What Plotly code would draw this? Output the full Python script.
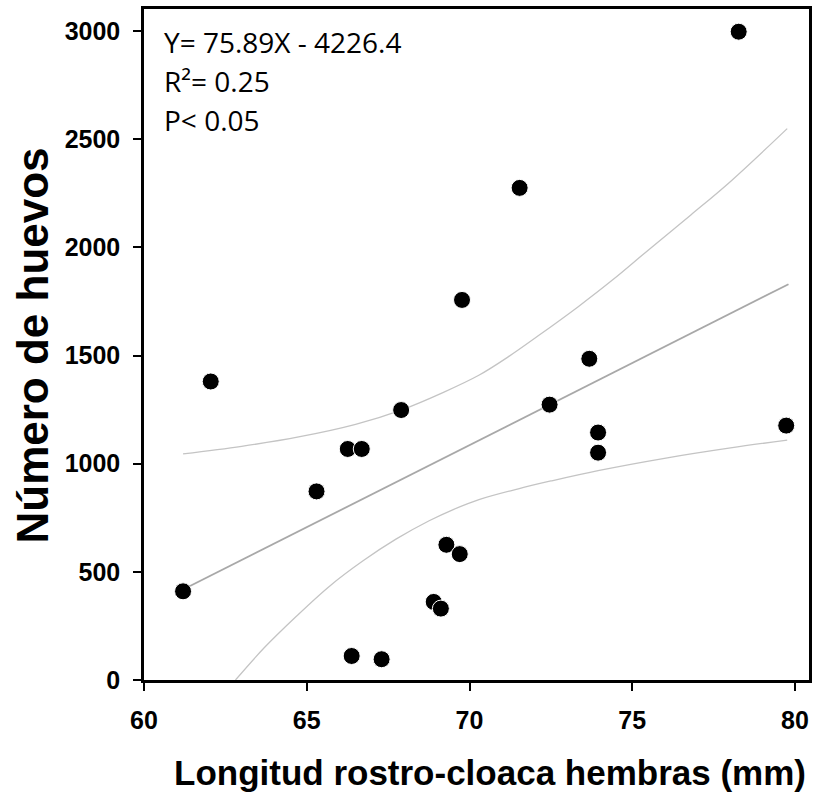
import plotly.graph_objects as go

# Data
lrc = [61.2, 62.05, 65.3, 66.26, 66.69, 66.38, 67.3, 67.9, 68.9, 69.12, 69.29, 69.7,
       69.77, 71.54, 72.46, 73.68, 73.95, 73.95, 78.27, 79.73]
huevos = [410, 1380, 872, 1068, 1068, 111, 96, 1248, 361, 330, 625, 582,
          1757, 2275, 1273, 1485, 1144, 1051, 2997, 1176]

# Regression line endpoints (Y = 75.89X - 4226.4)
reg_x = [61.2, 79.8]
reg_y = [418.1, 1829.6]

# Confidence band curves
upper_x = [61.2, 63.0, 64.79, 66.5, 67.9, 69.2, 70.3, 71.2, 72.1, 73.34, 74.4, 75.48, 76.8, 78.02, 79.76]
upper_y = [1045, 1080, 1125, 1182, 1248, 1330, 1410, 1495, 1590, 1726, 1850, 1986, 2150, 2305, 2549]
lower_x = [62.81, 63.7, 64.69, 65.71, 66.73, 67.74, 68.76, 69.5, 70.29, 71.5, 72.5, 73.95, 75.99, 78.02, 79.76]
lower_y = [0, 150, 296, 435, 551, 651, 736, 788, 834, 884, 920, 968, 1025, 1073, 1109]

x_ticks = [60, 65, 70, 75, 80]
y_ticks = [0, 500, 1000, 1500, 2000, 2500, 3000]

stats_lines = ["Y= 75.89X - 4226.4", "R²= 0.25", "P< 0.05"]

fig = go.Figure()
fig.add_trace(go.Scatter(x=upper_x, y=upper_y, mode="lines", line=dict(color="#c4c4c4", width=1.3, shape="spline"),
                         hoverinfo="skip", showlegend=False))
fig.add_trace(go.Scatter(x=lower_x, y=lower_y, mode="lines", line=dict(color="#c4c4c4", width=1.3, shape="spline"),
                         hoverinfo="skip", showlegend=False))
fig.add_trace(go.Scatter(x=reg_x, y=reg_y, mode="lines", line=dict(color="#a8a8a8", width=1.8),
                         hoverinfo="skip", showlegend=False))
fig.add_trace(go.Scatter(x=lrc, y=huevos, mode="markers",
                         marker=dict(size=17, color="black", line=dict(color="white", width=1)),
                         showlegend=False))

tickfont = dict(family="Liberation Sans, Arial, sans-serif", size=25, color="black", weight="bold")

fig.update_xaxes(range=[60, 80.43], tickvals=x_ticks, ticktext=[str(v) for v in x_ticks],
                 showline=True, linecolor="black", linewidth=2.5, mirror=True,
                 ticks="outside", ticklen=8, tickwidth=2, tickcolor="black",
                 showgrid=False, zeroline=False, tickfont=tickfont, ticklabelstandoff=8)
fig.update_yaxes(range=[0, 3102], tickvals=y_ticks, ticktext=[str(v) for v in y_ticks],
                 showline=True, linecolor="black", linewidth=2.5, mirror=True,
                 ticks="outside", ticklen=8, tickwidth=2, tickcolor="black",
                 showgrid=False, zeroline=False, tickfont=tickfont, ticklabelstandoff=8)

W, H = 814, 792
ml, mr, mt, mb = 144, 2, 9, 112
pw, ph = W - ml - mr, H - mt - mb

def px_to_paper_x(px):
    return (px - ml) / pw

def px_to_paper_y(py):
    return (H - mb - py) / ph

annots = []
for txt, cy in zip(stats_lines, [42, 81, 120]):
    annots.append(dict(text=txt, xref="paper", yref="paper", x=px_to_paper_x(162), y=px_to_paper_y(cy),
                       xanchor="left", yanchor="middle", showarrow=False,
                       font=dict(family="Open Sans, sans-serif", size=28, color="black")))
annots.append(dict(text="<b>Longitud rostro-cloaca hembras (mm)</b>", xref="paper", yref="paper",
                   x=px_to_paper_x(492), y=px_to_paper_y(773), xanchor="center", yanchor="middle",
                   showarrow=False, font=dict(family="Liberation Sans, Arial, sans-serif", size=35, color="black")))
annots.append(dict(text="<b>Número de huevos</b>", xref="paper", yref="paper", textangle=-90,
                   x=px_to_paper_x(31), y=px_to_paper_y(346), xanchor="center", yanchor="middle",
                   showarrow=False, font=dict(family="Liberation Sans, Arial, sans-serif", size=44, color="black")))

fig.update_layout(width=W, height=H, margin=dict(l=ml, r=mr, t=mt, b=mb),
                  paper_bgcolor="white", plot_bgcolor="white", annotations=annots)

fig.write_html("out.html", config={"displayModeBar": False},
               post_script="document.body.style.margin='0px'; document.body.style.overflow='hidden';")
